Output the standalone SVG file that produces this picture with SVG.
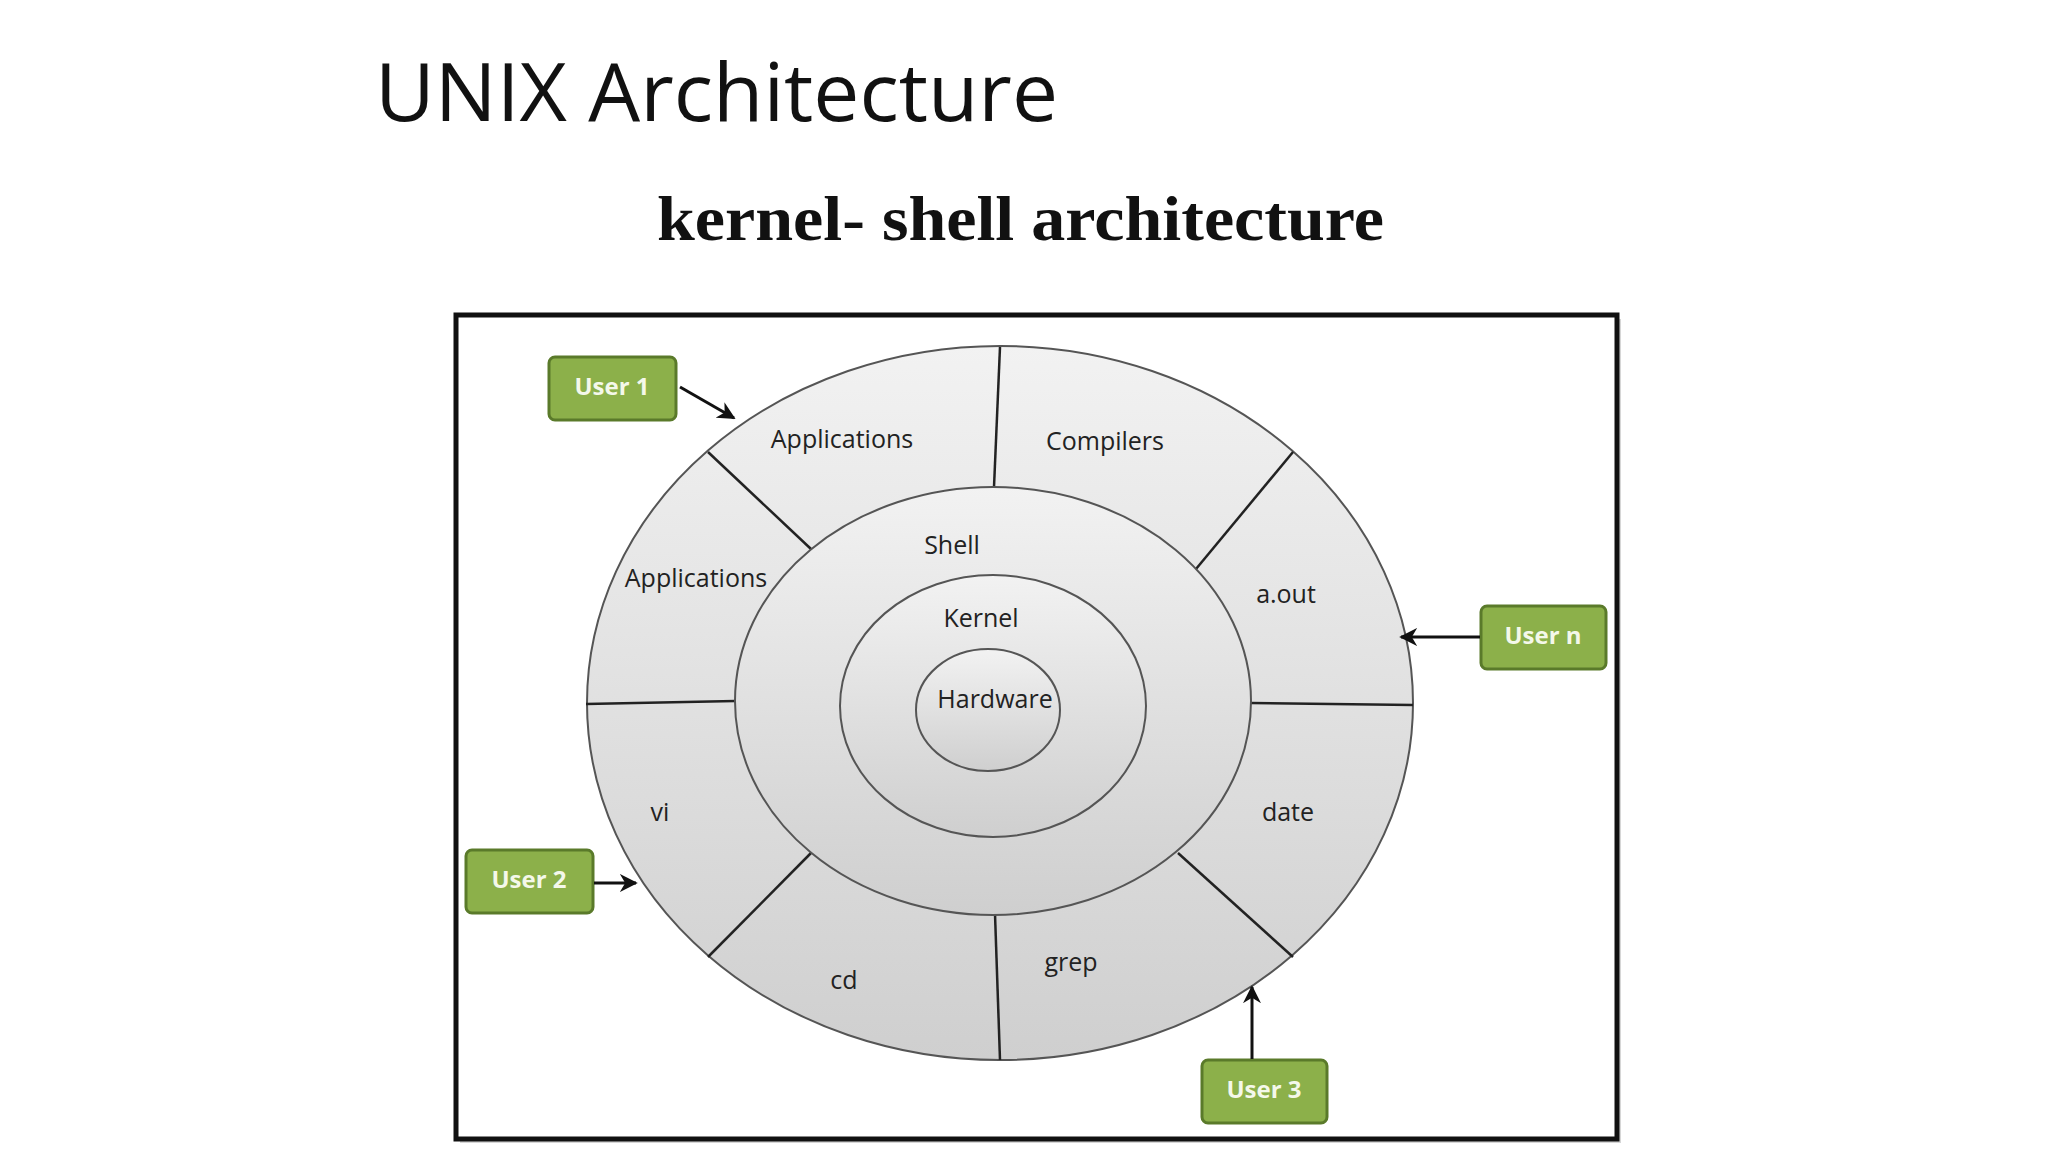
<svg xmlns="http://www.w3.org/2000/svg" width="2048" height="1152" viewBox="0 0 2048 1152">
<defs>
<linearGradient id="g" x1="0" y1="0" x2="0" y2="1"><stop offset="0" stop-color="#f2f2f2"/><stop offset="1" stop-color="#cfcfcf"/></linearGradient>
<marker id="a" viewBox="0 0 10 10" refX="9" refY="5" markerWidth="6" markerHeight="6" orient="auto"><path d="M0,0 L10,5 L0,10 L3,5 z" fill="#111"/></marker>
</defs>
<style>
.r{fill:url(#g);stroke:#555;stroke-width:2}
.d{stroke:#222;stroke-width:2.5}
.t{font-family:"Open Sans","Liberation Sans",sans-serif;font-size:25px;fill:#222;text-anchor:middle;dominant-baseline:middle}
.u rect{fill:#8cb04a;stroke:#5a7a2a;stroke-width:3}
.u text{font-family:"Open Sans","Liberation Sans",sans-serif;font-size:24px;fill:#f4f8ea;text-anchor:middle;dominant-baseline:middle;font-weight:bold}
.c{stroke:#111;stroke-width:3;fill:none;marker-end:url(#a)}
</style>
<rect width="2048" height="1152" fill="#fff"/>
<text x="375" y="121" font-family="Open Sans, Liberation Sans, sans-serif" font-size="80" textLength="683" lengthAdjust="spacingAndGlyphs" fill="#111">UNIX Architecture</text>
<text x="657" y="240" font-family="Liberation Serif, serif" font-weight="bold" font-size="64" textLength="727" lengthAdjust="spacingAndGlyphs" fill="#111">kernel- shell architecture</text>
<rect x="460" y="319" width="1161" height="824" fill="#999" opacity="0.4"/>
<rect x="456" y="315" width="1161" height="824" fill="#fff" stroke="#111" stroke-width="5"/>
<g id="outer"><ellipse class="r" cx="1000" cy="703" rx="413" ry="357"/></g>
<g id="dividers">
<line class="d" x1="1000" y1="347" x2="994" y2="487"/>
<line class="d" x1="708" y1="452" x2="811" y2="549"/>
<line class="d" x1="586" y1="704" x2="735" y2="701"/>
<line class="d" x1="708" y1="957" x2="811" y2="853"/>
<line class="d" x1="1000" y1="1060" x2="995" y2="914"/>
<line class="d" x1="1293" y1="957" x2="1178" y2="853"/>
<line class="d" x1="1413" y1="705" x2="1251" y2="703"/>
<line class="d" x1="1293" y1="452" x2="1196" y2="569"/>
</g>
<g id="shell"><ellipse class="r" cx="993" cy="701" rx="258" ry="214"/><text class="t" x="952" y="547">Shell</text></g>
<g id="kernel"><ellipse class="r" cx="993" cy="706" rx="153" ry="131"/><text class="t" x="981" y="620">Kernel</text></g>
<g id="hardware"><ellipse class="r" cx="988" cy="710" rx="72" ry="61"/><text class="t" x="995" y="701">Hardware</text></g>
<g id="labels">
<text class="t" x="842" y="441">Applications</text>
<text class="t" x="1105" y="443">Compilers</text>
<text class="t" x="696" y="580">Applications</text>
<text class="t" x="1286" y="596">a.out</text>
<text class="t" x="660" y="814">vi</text>
<text class="t" x="1288" y="814">date</text>
<text class="t" x="844" y="982">cd</text>
<text class="t" x="1071" y="964">grep</text>
</g>
<g id="user1" class="u"><rect x="549" y="357" width="127" height="63" rx="6"/><text x="612" y="389">User 1</text></g>
<g id="usern" class="u"><rect x="1481" y="606" width="125" height="63" rx="6"/><text x="1543" y="638">User n</text></g>
<g id="user2" class="u"><rect x="466" y="850" width="127" height="63" rx="6"/><text x="529" y="882">User 2</text></g>
<g id="user3" class="u"><rect x="1202" y="1060" width="125" height="63" rx="6"/><text x="1264" y="1092">User 3</text></g>
<g id="connectors">
<line class="c" x1="680" y1="387" x2="734" y2="418"/>
<line class="c" x1="1480" y1="637" x2="1401" y2="637"/>
<line class="c" x1="594" y1="883" x2="636" y2="883"/>
<line class="c" x1="1252" y1="1059" x2="1252" y2="987"/>
</g>
</svg>
